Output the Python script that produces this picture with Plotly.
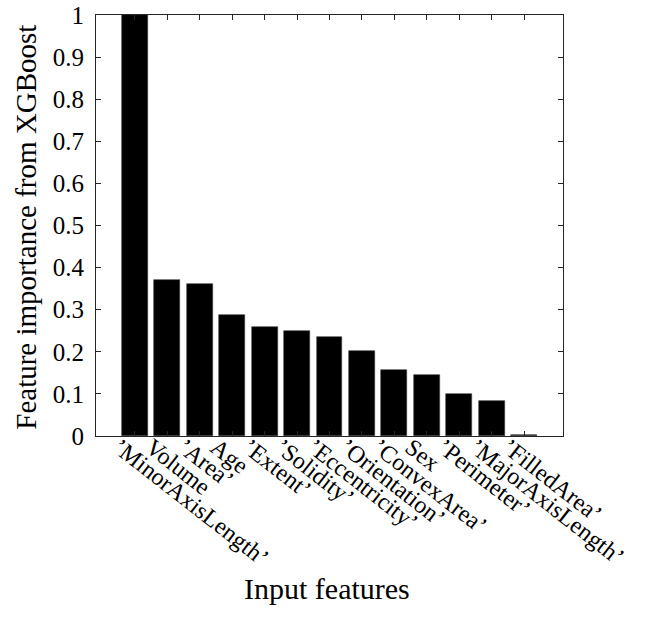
import plotly.graph_objects as go

features = ["’MinorAxisLength’", "Volume", "’Area’", "Age", "’Extent’", "’Solidity’",
            "’Eccentricity’", "’Orientation’", "’ConvexArea’", "Sex", "’Perimeter’",
            "’MajorAxisLength’", "’FilledArea’"]
importance = [1.0, 0.371, 0.360, 0.287, 0.260, 0.250, 0.236, 0.202, 0.157, 0.145,
              0.100, 0.082, 0.003]
y_ticks = [0, 0.1, 0.2, 0.3, 0.4, 0.5, 0.6, 0.7, 0.8, 0.9, 1]
y_tick_labels = ["0", "0.1", "0.2", "0.3", "0.4", "0.5", "0.6", "0.7", "0.8", "0.9", "1"]

FONT = "Liberation Serif"
AX = "#262626"

fig = go.Figure(go.Bar(
    x=list(range(len(features))), y=importance, width=0.8,
    marker=dict(color="black", line=dict(color="#3a3a3a", width=0.6)),
))

fig.update_layout(
    width=654, height=632,
    margin=dict(l=96, r=91, t=15, b=196),
    paper_bgcolor="white", plot_bgcolor="white",
    font=dict(family=FONT, size=26, color="black"),
    showlegend=False,
    bargap=0,
)
fig.update_xaxes(
    range=[-1.2, len(features) - 1 + 1.2],
    tickmode="array", tickvals=list(range(len(features))), ticktext=features,
    tickangle=38, ticks="inside", ticklen=5, tickcolor=AX, tickwidth=1,
    showline=True, linecolor=AX, linewidth=1, mirror="allticks",
    showgrid=False, zeroline=False, automargin=False,
    ticklabeloverflow="allow", ticklabelstandoff=-13, ticklabelshift=-16,
    tickfont=dict(family=FONT, size=24, color="black"),
)
fig.update_yaxes(
    range=[0, 1],
    tickmode="array", tickvals=y_ticks, ticktext=y_tick_labels,
    ticks="inside", ticklen=5, tickcolor=AX, tickwidth=1,
    showline=True, linecolor=AX, linewidth=1, mirror="allticks",
    showgrid=False, zeroline=False, automargin=False,
    ticklabeloverflow="allow", ticklabelstandoff=6,
    tickfont=dict(family=FONT, size=25, color="black"),
)
fig.add_annotation(text="Input features", xref="paper", yref="paper",
                   x=0.495, y=-0.362, xanchor="center", yanchor="middle",
                   showarrow=False, font=dict(family=FONT, size=30, color="black"))
fig.add_annotation(text="Feature importance from XGBoost", xref="paper", yref="paper",
                   x=-0.15, y=0.497, xanchor="center", yanchor="middle", textangle=-90,
                   showarrow=False, font=dict(family=FONT, size=29, color="black"))

fig.write_html("out.html", config={"displayModeBar": False},
               post_script="document.body.style.margin='0';")
